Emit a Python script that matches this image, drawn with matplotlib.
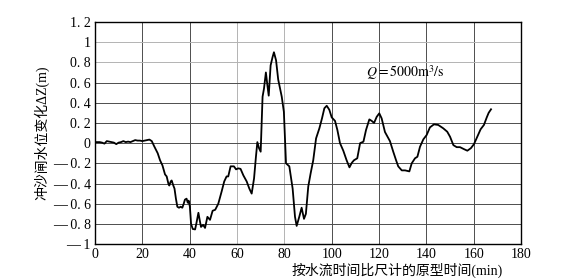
import matplotlib
matplotlib.use("Agg")
import matplotlib.pyplot as plt

# 原型时间 (min) 与冲沙闸水位变化 ΔZ (m)
t_min = [0, 1, 2, 3, 4, 5, 6, 7, 8, 9, 10, 11, 12, 13, 14, 15, 16, 17, 18, 19,
         20, 21, 22, 23, 24, 25, 26.5, 27.5, 28.5, 29.6, 30.3, 31.0, 31.4, 32.0,
         32.4, 33.1, 33.6, 34.2, 34.8, 35.5, 36.2, 36.9, 37.5, 38.0, 38.7, 39.2,
         39.6, 40.1, 40.6, 41.3, 42.3, 42.8, 43.7, 44.3, 44.8, 45.7, 46.5, 47.5,
         48.6, 49.7, 50.8, 52.1, 53.5, 54.6, 55.6, 56.3, 57.3, 58.7, 59.6, 60.5,
         61.5, 62.7, 64.1, 65.2, 66.2, 67.2, 68.0, 68.6, 69.3, 70.0, 70.8, 71.4,
         72.2, 72.8, 73.4, 74.2, 75.0, 75.6, 76.5, 77.4, 78.9, 79.8, 80.7, 82.1,
         83.5, 84.5, 85.2, 86.3, 87.3, 88.3, 89.1, 90.1, 91.1, 92.2, 93.4, 94.8,
         95.9, 96.9, 97.9, 99.0, 100.0, 101.4, 102.4, 103.5, 104.9, 106.3, 107.5,
         108.5, 109.4, 110.8, 112.0, 113.4, 114.5, 115.9, 116.9, 117.9, 119.0,
         120.1, 121.1, 122.5, 124.6, 126.0, 127.2, 128.1, 129.6, 131.0, 132.8,
         133.8, 135.2, 136.2, 137.3, 138.7, 140.1, 141.5, 143.2, 145.0, 147.1,
         148.8, 150.0, 151.4, 152.8, 154.2, 155.9, 157.3, 158.8, 160.1, 161.5,
         162.9, 164.3, 165.5, 166.3, 167.3]
dz = [0.01, 0.01, 0.01, 0.005, -0.005, 0.02, 0.015, 0.01, 0.005, -0.01, 0.005,
      0.01, 0.02, 0.01, 0.015, 0.01, 0.02, 0.03, 0.025, 0.025, 0.02, 0.025, 0.03,
      0.035, 0.02, -0.03, -0.10, -0.17, -0.22, -0.31, -0.33, -0.40, -0.42, -0.38,
      -0.37, -0.42, -0.45, -0.55, -0.63, -0.64, -0.63, -0.64, -0.60, -0.56, -0.55,
      -0.59, -0.57, -0.63, -0.80, -0.85, -0.855, -0.80, -0.69, -0.77, -0.83, -0.81,
      -0.84, -0.73, -0.76, -0.67, -0.66, -0.60, -0.48, -0.38, -0.33, -0.33, -0.23,
      -0.23, -0.26, -0.25, -0.255, -0.32, -0.38, -0.45, -0.50, -0.35, -0.135, 0.01,
      -0.05, -0.085, 0.46, 0.54, 0.70, 0.58, 0.47, 0.77, 0.85, 0.90, 0.82, 0.63,
      0.46, 0.31, -0.20, -0.23, -0.45, -0.73, -0.82, -0.73, -0.64, -0.75, -0.70,
      -0.43, -0.30, -0.17, 0.047, 0.147, 0.245, 0.345, 0.37, 0.33, 0.255, 0.22,
      0.13, 0.0, -0.075, -0.17, -0.24, -0.195, -0.17, -0.15, 0.0, 0.014, 0.13,
      0.235, 0.22, 0.20, 0.26, 0.295, 0.245, 0.11, 0.02, -0.085, -0.17, -0.23,
      -0.27, -0.27, -0.28, -0.20, -0.15, -0.135, -0.036, 0.037, 0.08, 0.156, 0.186,
      0.18, 0.147, 0.113, 0.063, -0.02, -0.04, -0.04, -0.06, -0.075, -0.05, -0.01,
      0.063, 0.137, 0.18, 0.255, 0.30, 0.335]

x_ticks = [0, 20, 40, 60, 80, 100, 120, 140, 160, 180]
y_ticks = [1.2, 1.0, 0.8, 0.6, 0.4, 0.2, 0.0, -0.2, -0.4, -0.6, -0.8, -1.0]
y_labels = ["1. 2", "1", "0. 8", "0. 6", "0. 4", "0. 2", "0",
            "\u2014 0. 2", "\u2014 0. 4", "\u2014 0. 6", "\u2014 0. 8", "\u2014 1"]

plt.rcParams["font.family"] = ["Liberation Serif", "Noto Sans CJK SC", "DejaVu Sans"]
plt.rcParams["mathtext.fontset"] = "stix"

fig = plt.figure(figsize=(5.72, 2.78), dpi=100)
ax = fig.add_axes([0.166, 0.122, 0.745, 0.799])

ax.plot(t_min, dz, color="black", lw=1.3)

ax.set_xlim(0, 180)
ax.set_ylim(-1, 1.2)
ax.set_xticks(x_ticks)
ax.set_yticks(y_ticks)
ax.set_yticklabels(y_labels)
ax.tick_params(length=0, labelsize=10, pad=3)
ax.grid(True, color="0.3", lw=0.7)
# 扫描图里几条网格线颜色偏浅
for i, gl in enumerate(ax.get_ygridlines()):
    if y_ticks[i] in (1.0, 0.8):
        gl.set_color("0.7")
for i, gl in enumerate(ax.get_xgridlines()):
    if x_ticks[i] in (60, 80):
        gl.set_color("0.7")
for s in ax.spines.values():
    s.set_linewidth(1.0)

ax.set_ylabel("冲沙闸水位变化ΔZ(m)", fontsize=10, labelpad=2)
ax.text(0.958, -0.082, "按水流时间比尺计的原型时间(min)", transform=ax.transAxes,
        ha="right", va="top", fontsize=10)
ax.text(114.5, 0.70, r"$Q=5000\mathrm{m}^3/\mathrm{s}$", fontsize=10, va="center")

fig.savefig("out.png", dpi=100)
